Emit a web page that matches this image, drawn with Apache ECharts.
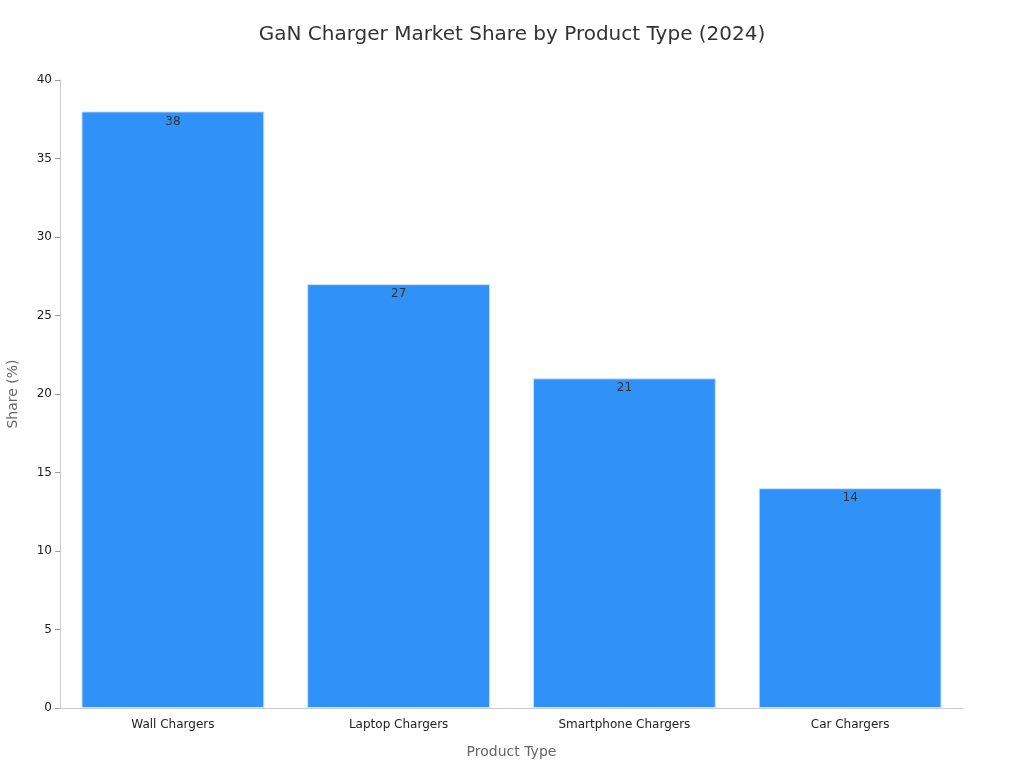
<!DOCTYPE html>
<html><head><meta charset="utf-8">
<script src="https://cdn.jsdelivr.net/npm/echarts@6/dist/echarts.min.js"></script>
<style>html,body{margin:0;padding:0;background:#fff}#c{width:1024px;height:768px}</style>
</head><body><div id="c"></div>
<script>
const categories = ["Wall Chargers", "Laptop Chargers", "Smartphone Chargers", "Car Chargers"];
const shares = [38, 27, 21, 14];
const yTicks = [0, 5, 10, 15, 20, 25, 30, 35, 40];
const chart = echarts.init(document.getElementById('c'));
chart.setOption({
  animation: false,
  textStyle: { fontFamily: 'DejaVu Sans' },
  title: { text: 'GaN Charger Market Share by Product Type (2024)', left: 'center', top: 20,
    textStyle: { fontSize: 20, fontWeight: 'normal', color: '#333', fontFamily: 'DejaVu Sans' } },
  grid: { left: 60, right: 61, top: 80, bottom: 60, outerBoundsMode: 'none' },
  xAxis: { type: 'category', data: categories, name: 'Product Type', nameLocation: 'middle', nameGap: 37,
    nameTextStyle: { fontSize: 14, color: '#666' },
    axisLine: { lineStyle: { color: '#ccc' } }, axisTick: { alignWithLabel: true, lineStyle: { color: '#999' } },
    axisLabel: { fontSize: 12, color: '#222', margin: 11 } },
  yAxis: { type: 'value', min: yTicks[0], max: yTicks[yTicks.length - 1], interval: 5,
    name: 'Share (%)', nameLocation: 'middle', nameGap: 40, nameTextStyle: { fontSize: 14, color: '#666' },
    axisLine: { show: true, lineStyle: { color: '#ccc' } }, axisTick: { show: true, lineStyle: { color: '#999' } },
    splitLine: { show: false }, axisLabel: { fontSize: 12, color: '#222' } },
  series: [{ type: 'bar', data: shares, barCategoryGap: '19%',
    itemStyle: { color: '#3092f8', borderColor: '#cfe3fb', borderWidth: 1 },
    label: { show: true, position: 'insideTop', color: '#333', fontSize: 12, offset: [0, -1] } }]
});
</script></body></html>
